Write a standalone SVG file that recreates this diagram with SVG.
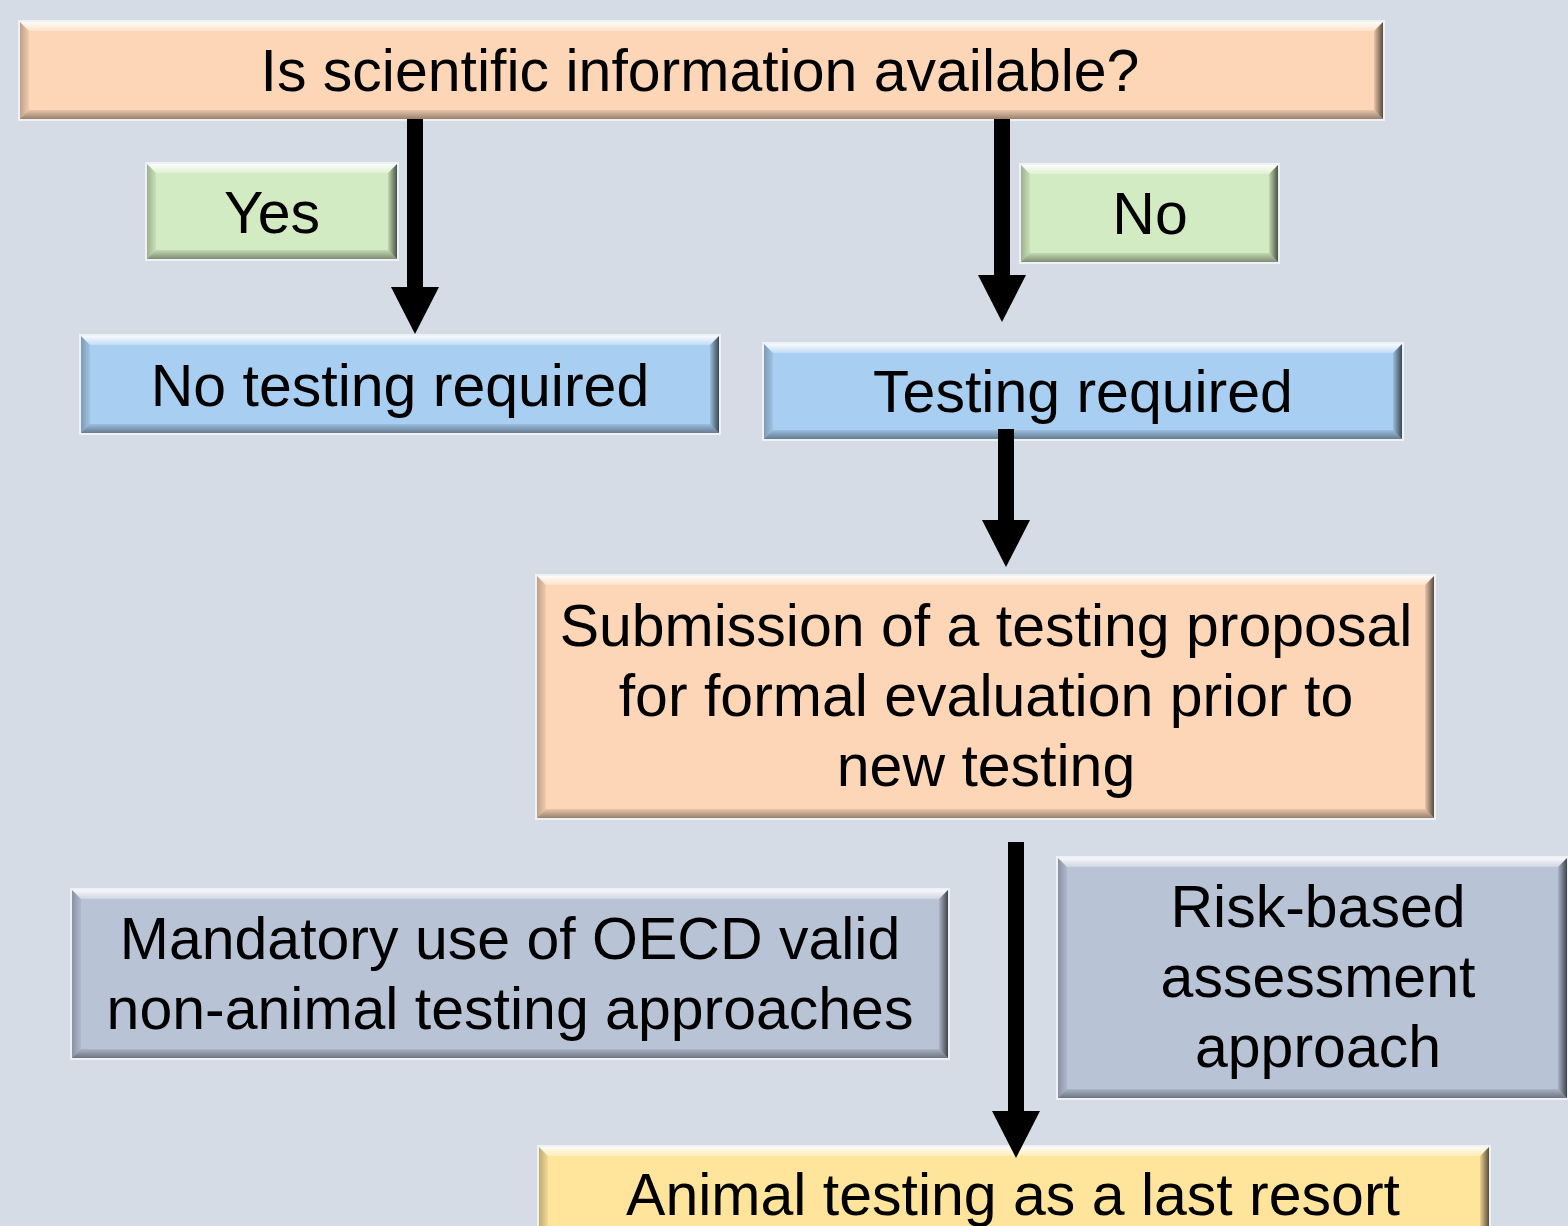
<svg xmlns="http://www.w3.org/2000/svg" width="1568" height="1226" viewBox="0 0 1568 1226">
  <defs>
    <style>
      .label { font-family: "Liberation Sans", Arial, sans-serif; font-size: 59px; fill: #000; text-anchor: middle; }
      .edge { fill: none; stroke: rgba(255,255,255,0.6); stroke-width: 2; }
      .bt { fill: url(#bevelTop); }
      .bb { fill: url(#bevelBottom); }
      .bl { fill: url(#bevelLeft); }
      .br { fill: url(#bevelRight); }
      .peach { fill: #fdd6b7; }
      .green { fill: #d3ebc2; }
      .blue { fill: #a8cef1; }
      .slate { fill: #b8c3d6; }
      .yellow { fill: #ffe49c; }
      .shaft { stroke: #000; stroke-width: 16; fill: none; marker-end: url(#head); }
    </style>
    <linearGradient id="bevelTop" x1="0" y1="0" x2="0" y2="1">
      <stop offset="0" stop-color="#fff" stop-opacity="0.9"/>
      <stop offset="1" stop-color="#fff" stop-opacity="0.3"/>
    </linearGradient>
    <linearGradient id="bevelBottom" x1="0" y1="0" x2="0" y2="1">
      <stop offset="0" stop-color="#000" stop-opacity="0.08"/>
      <stop offset="1" stop-color="#000" stop-opacity="0.4"/>
    </linearGradient>
    <linearGradient id="bevelLeft" x1="0" y1="0" x2="1" y2="0">
      <stop offset="0" stop-color="#000" stop-opacity="0.25"/>
      <stop offset="1" stop-color="#000" stop-opacity="0.05"/>
    </linearGradient>
    <linearGradient id="bevelRight" x1="0" y1="0" x2="1" y2="0">
      <stop offset="0" stop-color="#000" stop-opacity="0.08"/>
      <stop offset="1" stop-color="#000" stop-opacity="0.65"/>
    </linearGradient>
    <marker id="head" viewBox="0 0 47 48" refX="0" refY="24" markerWidth="47" markerHeight="48" markerUnits="userSpaceOnUse" orient="auto">
      <path d="M0,0 L47,24 L0,48 Z" fill="#000"/>
    </marker>
  </defs>

  <rect width="1568" height="1226" fill="#d5dce6"/>

  <g id="nodes">
    <g id="question">
      <rect x="20" y="22" width="1363" height="97" class="peach"/>
      <polygon class="bt" points="20,22 1383,22 1374,31 29,31"/>
      <polygon class="bb" points="20,119 1383,119 1374,110 29,110"/>
      <polygon class="bl" points="20,22 29,31 29,110 20,119"/>
      <polygon class="br" points="1383,22 1374,31 1374,110 1383,119"/>
      <rect x="19" y="21" width="1365" height="99" class="edge"/>
      <text class="label" x="700" y="91">Is scientific information available?</text>
    </g>

    <g id="yes">
      <rect x="147" y="164" width="250" height="95" class="green"/>
      <polygon class="bt" points="147,164 397,164 388,173 156,173"/>
      <polygon class="bb" points="147,259 397,259 388,250 156,250"/>
      <polygon class="bl" points="147,164 156,173 156,250 147,259"/>
      <polygon class="br" points="397,164 388,173 388,250 397,259"/>
      <rect x="146" y="163" width="252" height="97" class="edge"/>
      <text class="label" x="272" y="233">Yes</text>
    </g>

    <g id="no">
      <rect x="1021" y="165" width="257" height="97" class="green"/>
      <polygon class="bt" points="1021,165 1278,165 1269,174 1030,174"/>
      <polygon class="bb" points="1021,262 1278,262 1269,253 1030,253"/>
      <polygon class="bl" points="1021,165 1030,174 1030,253 1021,262"/>
      <polygon class="br" points="1278,165 1269,174 1269,253 1278,262"/>
      <rect x="1020" y="164" width="259" height="99" class="edge"/>
      <text class="label" x="1150" y="234">No</text>
    </g>

    <g id="no-testing">
      <rect x="81" y="336" width="638" height="97" class="blue"/>
      <polygon class="bt" points="81,336 719,336 710,345 90,345"/>
      <polygon class="bb" points="81,433 719,433 710,424 90,424"/>
      <polygon class="bl" points="81,336 90,345 90,424 81,433"/>
      <polygon class="br" points="719,336 710,345 710,424 719,433"/>
      <rect x="80" y="335" width="640" height="99" class="edge"/>
      <text class="label" x="400" y="406">No testing required</text>
    </g>

    <g id="testing">
      <rect x="764" y="344" width="638" height="95" class="blue"/>
      <polygon class="bt" points="764,344 1402,344 1393,353 773,353"/>
      <polygon class="bb" points="764,439 1402,439 1393,430 773,430"/>
      <polygon class="bl" points="764,344 773,353 773,430 764,439"/>
      <polygon class="br" points="1402,344 1393,353 1393,430 1402,439"/>
      <rect x="763" y="343" width="640" height="97" class="edge"/>
      <text class="label" x="1083" y="412">Testing required</text>
    </g>

    <g id="proposal">
      <rect x="537" y="576" width="897" height="242" class="peach"/>
      <polygon class="bt" points="537,576 1434,576 1425,585 546,585"/>
      <polygon class="bb" points="537,818 1434,818 1425,809 546,809"/>
      <polygon class="bl" points="537,576 546,585 546,809 537,818"/>
      <polygon class="br" points="1434,576 1425,585 1425,809 1434,818"/>
      <rect x="536" y="575" width="899" height="244" class="edge"/>
      <text class="label" x="986" y="646">Submission of a testing proposal</text>
      <text class="label" x="986" y="716">for formal evaluation prior to</text>
      <text class="label" x="986" y="786">new testing</text>
    </g>

    <g id="oecd">
      <rect x="72" y="890" width="876" height="168" class="slate"/>
      <polygon class="bt" points="72,890 948,890 939,899 81,899"/>
      <polygon class="bb" points="72,1058 948,1058 939,1049 81,1049"/>
      <polygon class="bl" points="72,890 81,899 81,1049 72,1058"/>
      <polygon class="br" points="948,890 939,899 939,1049 948,1058"/>
      <rect x="71" y="889" width="878" height="170" class="edge"/>
      <text class="label" x="510" y="959">Mandatory use of OECD valid</text>
      <text class="label" x="510" y="1029">non-animal testing approaches</text>
    </g>

    <g id="risk">
      <rect x="1058" y="858" width="509" height="240" class="slate"/>
      <polygon class="bt" points="1058,858 1567,858 1558,867 1067,867"/>
      <polygon class="bb" points="1058,1098 1567,1098 1558,1089 1067,1089"/>
      <polygon class="bl" points="1058,858 1067,867 1067,1089 1058,1098"/>
      <polygon class="br" points="1567,858 1558,867 1558,1089 1567,1098"/>
      <rect x="1057" y="857" width="511" height="242" class="edge"/>
      <text class="label" x="1318" y="927">Risk-based</text>
      <text class="label" x="1318" y="997">assessment</text>
      <text class="label" x="1318" y="1067">approach</text>
    </g>

    <g id="last-resort">
      <rect x="539" y="1147" width="950" height="100" class="yellow"/>
      <polygon class="bt" points="539,1147 1489,1147 1480,1156 548,1156"/>
      <polygon class="bb" points="539,1247 1489,1247 1480,1238 548,1238"/>
      <polygon class="bl" points="539,1147 548,1156 548,1238 539,1247"/>
      <polygon class="br" points="1489,1147 1480,1156 1480,1238 1489,1247"/>
      <rect x="538" y="1146" width="952" height="102" class="edge"/>
      <text class="label" x="1013" y="1215">Animal testing as a last resort</text>
    </g>
  </g>

  <g id="connectors">
    <line class="shaft" x1="415" y1="119" x2="415" y2="287"/>
    <line class="shaft" x1="1002" y1="119" x2="1002" y2="275"/>
    <line class="shaft" x1="1006" y1="429" x2="1006" y2="520"/>
    <line class="shaft" x1="1016" y1="842" x2="1016" y2="1111"/>
  </g>
</svg>
